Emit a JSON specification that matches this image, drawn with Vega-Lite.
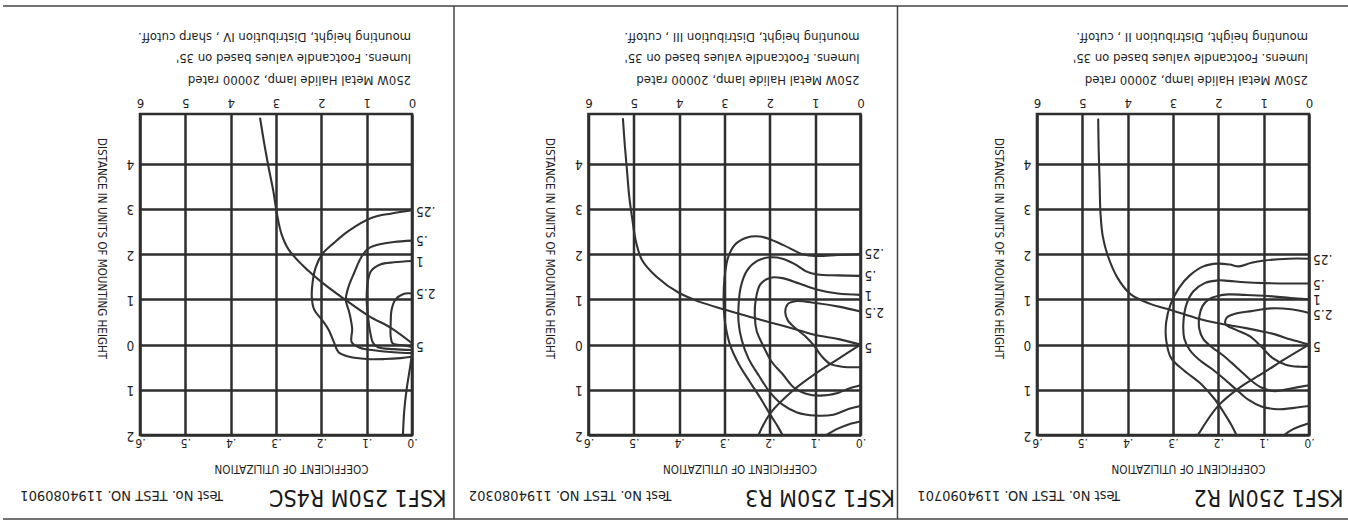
{
  "$schema": "https://vega.github.io/schema/vega-lite/v6.json",
  "background": "white",
  "padding": {"left": 0, "top": 3, "right": 0, "bottom": 0},
  "bounds": "flush",
  "spacing": 176.5,
  "datasets": {
    "labels": [
      {"p":1,"t":".25","y":2.96},{"p":1,"t":".5","y":2.32},{"p":1,"t":"1","y":1.85},{"p":1,"t":"2.5","y":1.15},{"p":1,"t":"5","y":-0.03},
      {"p":2,"t":".25","y":2.02},{"p":2,"t":".5","y":1.53},{"p":2,"t":"1","y":1.1},{"p":2,"t":"2.5","y":0.72},{"p":2,"t":"5","y":-0.05},
      {"p":3,"t":".25","y":1.9},{"p":3,"t":".5","y":1.35},{"p":3,"t":"1","y":1.0},{"p":3,"t":"2.5","y":0.68},{"p":3,"t":"5","y":-0.03}
    ],
    "contours": [
      {"p":1,"c":"cu","i":0,"x":0,"y":0.03},{"p":1,"c":"cu","i":1,"x":0.45,"y":0.36},{"p":1,"c":"cu","i":2,"x":0.95,"y":0.63},{"p":1,"c":"cu","i":3,"x":1.47,"y":0.99},{"p":1,"c":"cu","i":4,"x":1.98,"y":1.37},{"p":1,"c":"cu","i":5,"x":2.42,"y":1.76},{"p":1,"c":"cu","i":6,"x":2.72,"y":2.1},{"p":1,"c":"cu","i":7,"x":2.88,"y":2.45},{"p":1,"c":"cu","i":8,"x":2.98,"y":2.9},{"p":1,"c":"cu","i":9,"x":3.06,"y":3.4},{"p":1,"c":"cu","i":10,"x":3.16,"y":3.9},{"p":1,"c":"cu","i":11,"x":3.26,"y":4.45},{"p":1,"c":"cu","i":12,"x":3.35,"y":5.0},
      {"p":1,"c":"a","i":0,"x":0,"y":2.97},{"p":1,"c":"a","i":1,"x":0.45,"y":2.9},{"p":1,"c":"a","i":2,"x":0.9,"y":2.8},{"p":1,"c":"a","i":3,"x":1.39,"y":2.52},{"p":1,"c":"a","i":4,"x":1.72,"y":2.25},{"p":1,"c":"a","i":5,"x":1.98,"y":2.0},{"p":1,"c":"a","i":6,"x":2.12,"y":1.72},{"p":1,"c":"a","i":7,"x":2.19,"y":1.4},{"p":1,"c":"a","i":8,"x":2.21,"y":1.05},{"p":1,"c":"a","i":9,"x":2.16,"y":0.78},{"p":1,"c":"a","i":10,"x":1.99,"y":0.55},{"p":1,"c":"a","i":11,"x":1.84,"y":0.33},{"p":1,"c":"a","i":12,"x":1.72,"y":0.05},{"p":1,"c":"a","i":13,"x":1.62,"y":-0.17},{"p":1,"c":"a","i":14,"x":1.38,"y":-0.27},{"p":1,"c":"a","i":15,"x":1.0,"y":-0.32},{"p":1,"c":"a","i":16,"x":0.6,"y":-0.32},{"p":1,"c":"a","i":17,"x":0.25,"y":-0.3},{"p":1,"c":"a","i":18,"x":0,"y":-0.27},
      {"p":1,"c":"b","i":0,"x":0,"y":2.3},{"p":1,"c":"b","i":1,"x":0.4,"y":2.27},{"p":1,"c":"b","i":2,"x":0.78,"y":2.2},{"p":1,"c":"b","i":3,"x":0.97,"y":2.12},{"p":1,"c":"b","i":4,"x":1.12,"y":1.93},{"p":1,"c":"b","i":5,"x":1.27,"y":1.6},{"p":1,"c":"b","i":6,"x":1.4,"y":1.28},{"p":1,"c":"b","i":7,"x":1.46,"y":0.99},{"p":1,"c":"b","i":8,"x":1.38,"y":0.7},{"p":1,"c":"b","i":9,"x":1.32,"y":0.35},{"p":1,"c":"b","i":10,"x":1.33,"y":0.05},{"p":1,"c":"b","i":11,"x":1.15,"y":-0.07},{"p":1,"c":"b","i":12,"x":0.8,"y":-0.13},{"p":1,"c":"b","i":13,"x":0.4,"y":-0.17},{"p":1,"c":"b","i":14,"x":0,"y":-0.19},
      {"p":1,"c":"c","i":0,"x":0,"y":1.85},{"p":1,"c":"c","i":1,"x":0.4,"y":1.82},{"p":1,"c":"c","i":2,"x":0.7,"y":1.77},{"p":1,"c":"c","i":3,"x":0.9,"y":1.63},{"p":1,"c":"c","i":4,"x":0.97,"y":1.42},{"p":1,"c":"c","i":5,"x":1.0,"y":1.0},{"p":1,"c":"c","i":6,"x":0.97,"y":0.62},{"p":1,"c":"c","i":7,"x":0.92,"y":0.26},{"p":1,"c":"c","i":8,"x":0.86,"y":0.04},{"p":1,"c":"c","i":9,"x":0.75,"y":-0.06},{"p":1,"c":"c","i":10,"x":0.4,"y":-0.1},{"p":1,"c":"c","i":11,"x":0,"y":-0.12},
      {"p":1,"c":"d","i":0,"x":0,"y":1.13},{"p":1,"c":"d","i":1,"x":0.19,"y":1.12},{"p":1,"c":"d","i":2,"x":0.37,"y":0.99},{"p":1,"c":"d","i":3,"x":0.45,"y":0.77},{"p":1,"c":"d","i":4,"x":0.47,"y":0.48},{"p":1,"c":"d","i":5,"x":0.47,"y":0.18},{"p":1,"c":"d","i":6,"x":0.43,"y":0.03},{"p":1,"c":"d","i":7,"x":0.25,"y":-0.01},{"p":1,"c":"d","i":8,"x":0,"y":-0.05},
      {"p":1,"c":"h","i":0,"x":0,"y":-0.22},{"p":1,"c":"h","i":1,"x":0.05,"y":-0.55},{"p":1,"c":"h","i":2,"x":0.12,"y":-1.0},{"p":1,"c":"h","i":3,"x":0.17,"y":-1.45},{"p":1,"c":"h","i":4,"x":0.2,"y":-2.0},

      {"p":2,"c":"cu","i":0,"x":0,"y":0},{"p":2,"c":"cu","i":1,"x":0.48,"y":0.12},{"p":2,"c":"cu","i":2,"x":0.99,"y":0.21},{"p":2,"c":"cu","i":3,"x":1.44,"y":0.34},{"p":2,"c":"cu","i":4,"x":1.99,"y":0.49},{"p":2,"c":"cu","i":5,"x":2.47,"y":0.62},{"p":2,"c":"cu","i":6,"x":2.98,"y":0.77},{"p":2,"c":"cu","i":7,"x":3.56,"y":0.95},{"p":2,"c":"cu","i":8,"x":4.0,"y":1.14},{"p":2,"c":"cu","i":9,"x":4.5,"y":1.5},{"p":2,"c":"cu","i":10,"x":4.82,"y":1.87},{"p":2,"c":"cu","i":11,"x":4.96,"y":2.31},{"p":2,"c":"cu","i":12,"x":5.04,"y":2.82},{"p":2,"c":"cu","i":13,"x":5.1,"y":3.26},{"p":2,"c":"cu","i":14,"x":5.15,"y":3.84},{"p":2,"c":"cu","i":15,"x":5.2,"y":4.42},{"p":2,"c":"cu","i":16,"x":5.24,"y":4.99},
      {"p":2,"c":"a","i":0,"x":0,"y":2.0},{"p":2,"c":"a","i":1,"x":0.5,"y":1.98},{"p":2,"c":"a","i":2,"x":0.97,"y":1.96},{"p":2,"c":"a","i":3,"x":1.25,"y":1.99},{"p":2,"c":"a","i":4,"x":1.7,"y":2.2},{"p":2,"c":"a","i":5,"x":2.0,"y":2.33},{"p":2,"c":"a","i":6,"x":2.22,"y":2.39},{"p":2,"c":"a","i":7,"x":2.5,"y":2.37},{"p":2,"c":"a","i":8,"x":2.76,"y":2.22},{"p":2,"c":"a","i":9,"x":2.92,"y":1.93},{"p":2,"c":"a","i":10,"x":3.0,"y":1.47},{"p":2,"c":"a","i":11,"x":3.02,"y":0.98},{"p":2,"c":"a","i":12,"x":2.99,"y":0.5},{"p":2,"c":"a","i":13,"x":2.88,"y":0},{"p":2,"c":"a","i":14,"x":2.68,"y":-0.44},{"p":2,"c":"a","i":15,"x":2.45,"y":-0.81},{"p":2,"c":"a","i":16,"x":2.21,"y":-1.18},{"p":2,"c":"a","i":17,"x":1.99,"y":-1.55},{"p":2,"c":"a","i":18,"x":1.82,"y":-1.82},{"p":2,"c":"a","i":19,"x":1.72,"y":-2.0},
      {"p":2,"c":"b","i":0,"x":0,"y":1.52},{"p":2,"c":"b","i":1,"x":0.5,"y":1.53},{"p":2,"c":"b","i":2,"x":0.95,"y":1.55},{"p":2,"c":"b","i":3,"x":1.2,"y":1.62},{"p":2,"c":"b","i":4,"x":1.45,"y":1.78},{"p":2,"c":"b","i":5,"x":1.72,"y":1.9},{"p":2,"c":"b","i":6,"x":1.99,"y":1.93},{"p":2,"c":"b","i":7,"x":2.28,"y":1.85},{"p":2,"c":"b","i":8,"x":2.5,"y":1.64},{"p":2,"c":"b","i":9,"x":2.64,"y":1.28},{"p":2,"c":"b","i":10,"x":2.69,"y":0.86},{"p":2,"c":"b","i":11,"x":2.69,"y":0.5},{"p":2,"c":"b","i":12,"x":2.62,"y":0.1},{"p":2,"c":"b","i":13,"x":2.47,"y":-0.31},{"p":2,"c":"b","i":14,"x":2.24,"y":-0.69},{"p":2,"c":"b","i":15,"x":2.0,"y":-1.05},{"p":2,"c":"b","i":16,"x":1.72,"y":-1.33},{"p":2,"c":"b","i":17,"x":1.4,"y":-1.5},{"p":2,"c":"b","i":18,"x":1.0,"y":-1.57},{"p":2,"c":"b","i":19,"x":0.6,"y":-1.55},{"p":2,"c":"b","i":20,"x":0.25,"y":-1.42},{"p":2,"c":"b","i":21,"x":0,"y":-1.36},
      {"p":2,"c":"c","i":0,"x":0,"y":1.1},{"p":2,"c":"c","i":1,"x":0.5,"y":1.13},{"p":2,"c":"c","i":2,"x":0.97,"y":1.22},{"p":2,"c":"c","i":3,"x":1.35,"y":1.35},{"p":2,"c":"c","i":4,"x":1.72,"y":1.47},{"p":2,"c":"c","i":5,"x":1.99,"y":1.48},{"p":2,"c":"c","i":6,"x":2.21,"y":1.33},{"p":2,"c":"c","i":7,"x":2.31,"y":1.0},{"p":2,"c":"c","i":8,"x":2.33,"y":0.6},{"p":2,"c":"c","i":9,"x":2.29,"y":0.3},{"p":2,"c":"c","i":10,"x":2.15,"y":-0.02},{"p":2,"c":"c","i":11,"x":1.96,"y":-0.38},{"p":2,"c":"c","i":12,"x":1.72,"y":-0.65},{"p":2,"c":"c","i":13,"x":1.47,"y":-0.95},{"p":2,"c":"c","i":14,"x":1.22,"y":-1.08},{"p":2,"c":"c","i":15,"x":0.9,"y":-1.13},{"p":2,"c":"c","i":16,"x":0.5,"y":-1.07},{"p":2,"c":"c","i":17,"x":0.25,"y":-0.97},{"p":2,"c":"c","i":18,"x":0,"y":-0.9},
      {"p":2,"c":"d","i":0,"x":0,"y":0.73},{"p":2,"c":"d","i":1,"x":0.48,"y":0.84},{"p":2,"c":"d","i":2,"x":0.99,"y":0.92},{"p":2,"c":"d","i":3,"x":1.44,"y":0.96},{"p":2,"c":"d","i":4,"x":1.6,"y":0.9},{"p":2,"c":"d","i":5,"x":1.66,"y":0.72},{"p":2,"c":"d","i":6,"x":1.6,"y":0.53},{"p":2,"c":"d","i":7,"x":1.42,"y":0.35},{"p":2,"c":"d","i":8,"x":1.2,"y":0.17},{"p":2,"c":"d","i":9,"x":1.02,"y":-0.03},{"p":2,"c":"d","i":10,"x":0.87,"y":-0.24},{"p":2,"c":"d","i":11,"x":0.68,"y":-0.42},{"p":2,"c":"d","i":12,"x":0.4,"y":-0.49},{"p":2,"c":"d","i":13,"x":0,"y":-0.5},
      {"p":2,"c":"e","i":0,"x":0.75,"y":-2.0},{"p":2,"c":"e","i":1,"x":0.5,"y":-1.86},{"p":2,"c":"e","i":2,"x":0.25,"y":-1.76},{"p":2,"c":"e","i":3,"x":0,"y":-1.7},
      {"p":2,"c":"h","i":0,"x":0,"y":0},{"p":2,"c":"h","i":1,"x":0.48,"y":-0.31},{"p":2,"c":"h","i":2,"x":0.99,"y":-0.64},{"p":2,"c":"h","i":3,"x":1.47,"y":-1.0},{"p":2,"c":"h","i":4,"x":1.99,"y":-1.52},{"p":2,"c":"h","i":5,"x":2.25,"y":-2.0},

      {"p":3,"c":"cu","i":0,"x":0,"y":0},{"p":3,"c":"cu","i":1,"x":0.4,"y":0.11},{"p":3,"c":"cu","i":2,"x":0.73,"y":0.22},{"p":3,"c":"cu","i":3,"x":0.98,"y":0.28},{"p":3,"c":"cu","i":4,"x":1.42,"y":0.37},{"p":3,"c":"cu","i":5,"x":2.0,"y":0.47},{"p":3,"c":"cu","i":6,"x":2.5,"y":0.59},{"p":3,"c":"cu","i":7,"x":3.0,"y":0.75},{"p":3,"c":"cu","i":8,"x":3.5,"y":0.9},{"p":3,"c":"cu","i":9,"x":3.93,"y":1.11},{"p":3,"c":"cu","i":10,"x":4.22,"y":1.47},{"p":3,"c":"cu","i":11,"x":4.44,"y":1.97},{"p":3,"c":"cu","i":12,"x":4.55,"y":2.4},{"p":3,"c":"cu","i":13,"x":4.6,"y":2.91},{"p":3,"c":"cu","i":14,"x":4.62,"y":3.63},{"p":3,"c":"cu","i":15,"x":4.64,"y":4.35},{"p":3,"c":"cu","i":16,"x":4.65,"y":4.98},
      {"p":3,"c":"a","i":0,"x":0,"y":1.9},{"p":3,"c":"a","i":1,"x":0.45,"y":1.9},{"p":3,"c":"a","i":2,"x":0.98,"y":1.86},{"p":3,"c":"a","i":3,"x":1.27,"y":1.81},{"p":3,"c":"a","i":4,"x":1.55,"y":1.73},{"p":3,"c":"a","i":5,"x":1.75,"y":1.77},{"p":3,"c":"a","i":6,"x":2.02,"y":1.79},{"p":3,"c":"a","i":7,"x":2.33,"y":1.73},{"p":3,"c":"a","i":8,"x":2.63,"y":1.53},{"p":3,"c":"a","i":9,"x":2.87,"y":1.25},{"p":3,"c":"a","i":10,"x":3.05,"y":0.9},{"p":3,"c":"a","i":11,"x":3.15,"y":0.5},{"p":3,"c":"a","i":12,"x":3.15,"y":0.1},{"p":3,"c":"a","i":13,"x":3.04,"y":-0.3},{"p":3,"c":"a","i":14,"x":2.75,"y":-0.58},{"p":3,"c":"a","i":15,"x":2.38,"y":-0.87},{"p":3,"c":"a","i":16,"x":2.07,"y":-1.22},{"p":3,"c":"a","i":17,"x":1.85,"y":-1.55},{"p":3,"c":"a","i":18,"x":1.7,"y":-1.8},{"p":3,"c":"a","i":19,"x":1.6,"y":-2.0},
      {"p":3,"c":"b","i":0,"x":0,"y":1.35},{"p":3,"c":"b","i":1,"x":0.4,"y":1.35},{"p":3,"c":"b","i":2,"x":0.98,"y":1.36},{"p":3,"c":"b","i":3,"x":1.42,"y":1.38},{"p":3,"c":"b","i":4,"x":1.78,"y":1.41},{"p":3,"c":"b","i":5,"x":2.0,"y":1.42},{"p":3,"c":"b","i":6,"x":2.3,"y":1.36},{"p":3,"c":"b","i":7,"x":2.55,"y":1.18},{"p":3,"c":"b","i":8,"x":2.7,"y":0.9},{"p":3,"c":"b","i":9,"x":2.77,"y":0.5},{"p":3,"c":"b","i":10,"x":2.75,"y":0.13},{"p":3,"c":"b","i":11,"x":2.63,"y":-0.12},{"p":3,"c":"b","i":12,"x":2.43,"y":-0.33},{"p":3,"c":"b","i":13,"x":2.14,"y":-0.54},{"p":3,"c":"b","i":14,"x":1.87,"y":-0.76},{"p":3,"c":"b","i":15,"x":1.6,"y":-1.0},{"p":3,"c":"b","i":16,"x":1.34,"y":-1.22},{"p":3,"c":"b","i":17,"x":1.05,"y":-1.37},{"p":3,"c":"b","i":18,"x":0.69,"y":-1.43},{"p":3,"c":"b","i":19,"x":0.33,"y":-1.4},{"p":3,"c":"b","i":20,"x":0,"y":-1.36},
      {"p":3,"c":"c","i":0,"x":0,"y":1.0},{"p":3,"c":"c","i":1,"x":0.4,"y":1.03},{"p":3,"c":"c","i":2,"x":0.98,"y":1.08},{"p":3,"c":"c","i":3,"x":1.42,"y":1.1},{"p":3,"c":"c","i":4,"x":1.78,"y":1.11},{"p":3,"c":"c","i":5,"x":2.0,"y":1.08},{"p":3,"c":"c","i":6,"x":2.21,"y":1.0},{"p":3,"c":"c","i":7,"x":2.35,"y":0.85},{"p":3,"c":"c","i":8,"x":2.42,"y":0.62},{"p":3,"c":"c","i":9,"x":2.42,"y":0.35},{"p":3,"c":"c","i":10,"x":2.33,"y":0.12},{"p":3,"c":"c","i":11,"x":2.14,"y":-0.06},{"p":3,"c":"c","i":12,"x":1.92,"y":-0.22},{"p":3,"c":"c","i":13,"x":1.71,"y":-0.4},{"p":3,"c":"c","i":14,"x":1.49,"y":-0.6},{"p":3,"c":"c","i":15,"x":1.27,"y":-0.8},{"p":3,"c":"c","i":16,"x":1.05,"y":-0.95},{"p":3,"c":"c","i":17,"x":0.76,"y":-1.03},{"p":3,"c":"c","i":18,"x":0.4,"y":-0.97},{"p":3,"c":"c","i":19,"x":0,"y":-0.9},
      {"p":3,"c":"d","i":0,"x":0,"y":0.7},{"p":3,"c":"d","i":1,"x":0.4,"y":0.78},{"p":3,"c":"d","i":2,"x":0.84,"y":0.8},{"p":3,"c":"d","i":3,"x":1.27,"y":0.74},{"p":3,"c":"d","i":4,"x":1.63,"y":0.68},{"p":3,"c":"d","i":5,"x":1.81,"y":0.6},{"p":3,"c":"d","i":6,"x":1.84,"y":0.45},{"p":3,"c":"d","i":7,"x":1.62,"y":0.33},{"p":3,"c":"d","i":8,"x":1.3,"y":0.18},{"p":3,"c":"d","i":9,"x":1.05,"y":-0.05},{"p":3,"c":"d","i":10,"x":0.8,"y":-0.3},{"p":3,"c":"d","i":11,"x":0.5,"y":-0.45},{"p":3,"c":"d","i":12,"x":0.2,"y":-0.49},{"p":3,"c":"d","i":13,"x":0,"y":-0.49},
      {"p":3,"c":"e","i":0,"x":0.55,"y":-2.0},{"p":3,"c":"e","i":1,"x":0.35,"y":-1.87},{"p":3,"c":"e","i":2,"x":0,"y":-1.74},
      {"p":3,"c":"h","i":0,"x":0,"y":0},{"p":3,"c":"h","i":1,"x":0.5,"y":-0.3},{"p":3,"c":"h","i":2,"x":1.0,"y":-0.62},{"p":3,"c":"h","i":3,"x":1.53,"y":-0.95},{"p":3,"c":"h","i":4,"x":2.0,"y":-1.35},{"p":3,"c":"h","i":5,"x":2.45,"y":-2.0}
    ]
  },
  "hconcat": [
    {
      "width": 272, "height": 321,
      "layer": [
        {"data": {"name": "contours"}, "transform": [{"filter": "datum.p == 1"}],
         "mark": {"type": "line", "interpolate": "catmull-rom", "stroke": "#333333", "strokeWidth": 2.1, "strokeCap": "round", "strokeJoin": "round"},
         "encoding": {
           "x": {"field": "x", "type": "quantitative", "scale": {"domain": [0, 6], "reverse": true, "nice": false, "zero": false},
                 "axis": {"orient": "top", "values": [0,1,2,3,4,5,6], "labelAngle": 180, "labelAlign": "center", "labelBaseline": "middle", "labelPadding": 12, "labelFontSize": 13, "labelFlush": false, "labelOverlap": false, "title": null, "grid": true, "gridColor": "#2e2e2e", "gridWidth": 2.5, "domain": false, "ticks": false}},
           "y": {"field": "y", "type": "quantitative", "scale": {"domain": [-2, 5.1], "nice": false, "zero": false},
                 "axis": {"orient": "left", "values": [-2,-1,0,1,2,3,4], "labelExpr": "'' + abs(datum.value)", "labelAngle": 180, "labelAlign": "center", "labelBaseline": "middle", "labelPadding": 10, "labelFontSize": 13.5, "labelOverlap": false, "grid": true, "gridColor": "#2e2e2e", "gridWidth": 2.5, "domain": false, "ticks": false, "title": "DISTANCE IN UNITS OF MOUNTING HEIGHT", "titleAngle": 90, "titleX": -40, "titleY": 134, "titleAlign": "center", "titleBaseline": "middle", "titleFontSize": 11.5, "titleFontWeight": "normal"}},
           "detail": {"field": "c", "type": "nominal"},
           "order": {"field": "i", "type": "quantitative"}
         }},
        {"data": {"name": "labels"}, "transform": [{"filter": "datum.p == 1"}],
         "mark": {"type": "text", "angle": 180, "align": "right", "baseline": "middle", "fontSize": 13.5, "color": "#1e1e1e"},
         "encoding": {
           "x": {"datum": -0.09, "type": "quantitative",
                 "axis": {"orient": "bottom", "values": [0,1,2,3,4,5,6], "labelExpr": "'.' + datum.value", "labelAngle": 180, "labelAlign": "center", "labelBaseline": "middle", "labelPadding": 7, "labelFontSize": 12, "labelFlush": false, "labelOverlap": false, "grid": false, "domain": false, "ticks": false, "title": "COEFFICIENT OF UTILIZATION", "titleAngle": 180, "titleX": 151, "titleY": 32, "titleAlign": "center", "titleBaseline": "middle", "titleFontSize": 11.6, "titleFontWeight": "normal"}},
           "y": {"field": "y", "type": "quantitative", "axis": null},
           "text": {"field": "t", "type": "nominal"}
         }},
        {"data": {"values": [{}]},
         "mark": {"type": "text", "angle": 180, "align": "left", "baseline": "middle", "fontSize": 23, "color": "#1a1a1a", "text": "KSF1 250M R4SC"},
         "encoding": {"x": {"datum": -0.76, "type": "quantitative", "axis": null}, "y": {"datum": -3.37, "type": "quantitative", "axis": null}}},
        {"data": {"values": [{}]},
         "mark": {"type": "text", "angle": 180, "align": "left", "baseline": "middle", "fontSize": 14.5, "color": "#1e1e1e", "text": "Test No. TEST NO. 1194080901"},
         "encoding": {"x": {"datum": 4.17, "type": "quantitative", "axis": null}, "y": {"datum": -3.33, "type": "quantitative", "axis": null}}},
        {"data": {"values": [{}]},
         "mark": {"type": "text", "angle": 180, "align": "left", "baseline": "top", "fontSize": 13, "lineHeight": 21.5, "color": "#1e1e1e", "text": ["250W Metal Halide lamp, 20000 rated", "lumens. Footcandle values based on 35'", "mounting height, Distribution IV , sharp cutoff."]},
         "encoding": {"x": {"datum": 0.02, "type": "quantitative", "axis": null}, "y": {"datum": 5.72, "type": "quantitative", "axis": null}}},
        {"data": {"values": [{}]},
         "mark": {"type": "rule", "stroke": "#444444", "strokeWidth": 1.5},
         "encoding": {"x": {"datum": 9.022, "type": "quantitative", "axis": null}, "x2": {"datum": -20.69}, "y": {"datum": 7.489, "type": "quantitative", "axis": null}}},
        {"data": {"values": [{}]},
         "mark": {"type": "rule", "stroke": "#444444", "strokeWidth": 1.5},
         "encoding": {"x": {"datum": 9.022, "type": "quantitative", "axis": null}, "x2": {"datum": -20.69}, "y": {"datum": -3.858, "type": "quantitative", "axis": null}}},
        {"data": {"values": [{}]},
         "mark": {"type": "rule", "stroke": "#444444", "strokeWidth": 1.5},
         "encoding": {"x": {"datum": -0.9265, "type": "quantitative", "axis": null}, "y": {"datum": 7.489, "type": "quantitative", "axis": null}, "y2": {"datum": -3.858}}}
      ],
      "resolve": {"axis": {"x": "independent", "y": "independent"}}
    },
    {
      "width": 272, "height": 321,
      "layer": [
        {"data": {"name": "contours"}, "transform": [{"filter": "datum.p == 2"}],
         "mark": {"type": "line", "interpolate": "catmull-rom", "stroke": "#333333", "strokeWidth": 2.1, "strokeCap": "round", "strokeJoin": "round"},
         "encoding": {
           "x": {"field": "x", "type": "quantitative", "scale": {"domain": [0, 6], "reverse": true, "nice": false, "zero": false},
                 "axis": {"orient": "top", "values": [0,1,2,3,4,5,6], "labelAngle": 180, "labelAlign": "center", "labelBaseline": "middle", "labelPadding": 12, "labelFontSize": 13, "labelFlush": false, "labelOverlap": false, "title": null, "grid": true, "gridColor": "#2e2e2e", "gridWidth": 2.5, "domain": false, "ticks": false}},
           "y": {"field": "y", "type": "quantitative", "scale": {"domain": [-2, 5.1], "nice": false, "zero": false},
                 "axis": {"orient": "left", "values": [-2,-1,0,1,2,3,4], "labelExpr": "'' + abs(datum.value)", "labelAngle": 180, "labelAlign": "center", "labelBaseline": "middle", "labelPadding": 10, "labelFontSize": 13.5, "labelOverlap": false, "grid": true, "gridColor": "#2e2e2e", "gridWidth": 2.5, "domain": false, "ticks": false, "title": "DISTANCE IN UNITS OF MOUNTING HEIGHT", "titleAngle": 90, "titleX": -40, "titleY": 134, "titleAlign": "center", "titleBaseline": "middle", "titleFontSize": 11.5, "titleFontWeight": "normal"}},
           "detail": {"field": "c", "type": "nominal"},
           "order": {"field": "i", "type": "quantitative"}
         }},
        {"data": {"name": "labels"}, "transform": [{"filter": "datum.p == 2"}],
         "mark": {"type": "text", "angle": 180, "align": "right", "baseline": "middle", "fontSize": 13.5, "color": "#1e1e1e"},
         "encoding": {
           "x": {"datum": -0.09, "type": "quantitative",
                 "axis": {"orient": "bottom", "values": [0,1,2,3,4,5,6], "labelExpr": "'.' + datum.value", "labelAngle": 180, "labelAlign": "center", "labelBaseline": "middle", "labelPadding": 7, "labelFontSize": 12, "labelFlush": false, "labelOverlap": false, "grid": false, "domain": false, "ticks": false, "title": "COEFFICIENT OF UTILIZATION", "titleAngle": 180, "titleX": 151, "titleY": 32, "titleAlign": "center", "titleBaseline": "middle", "titleFontSize": 11.6, "titleFontWeight": "normal"}},
           "y": {"field": "y", "type": "quantitative", "axis": null},
           "text": {"field": "t", "type": "nominal"}
         }},
        {"data": {"values": [{}]},
         "mark": {"type": "text", "angle": 180, "align": "left", "baseline": "middle", "fontSize": 23, "color": "#1a1a1a", "text": "KSF1 250M R3"},
         "encoding": {"x": {"datum": -0.76, "type": "quantitative", "axis": null}, "y": {"datum": -3.37, "type": "quantitative", "axis": null}}},
        {"data": {"values": [{}]},
         "mark": {"type": "text", "angle": 180, "align": "left", "baseline": "middle", "fontSize": 14.5, "color": "#1e1e1e", "text": "Test No. TEST NO. 1194080302"},
         "encoding": {"x": {"datum": 4.17, "type": "quantitative", "axis": null}, "y": {"datum": -3.33, "type": "quantitative", "axis": null}}},
        {"data": {"values": [{}]},
         "mark": {"type": "text", "angle": 180, "align": "left", "baseline": "top", "fontSize": 13, "lineHeight": 21.5, "color": "#1e1e1e", "text": ["250W Metal Halide lamp, 20000 rated", "lumens. Footcandle values based on 35'", "mounting height, Distribution III , cutoff."]},
         "encoding": {"x": {"datum": 0.02, "type": "quantitative", "axis": null}, "y": {"datum": 5.72, "type": "quantitative", "axis": null}}},
        {"data": {"values": [{}]},
         "mark": {"type": "rule", "stroke": "#444444", "strokeWidth": 1.5},
         "encoding": {"x": {"datum": -0.816, "type": "quantitative", "axis": null}, "y": {"datum": 7.489, "type": "quantitative", "axis": null}, "y2": {"datum": -3.858}}}
      ],
      "resolve": {"axis": {"x": "independent", "y": "independent"}}
    },
    {
      "width": 272, "height": 321,
      "layer": [
        {"data": {"name": "contours"}, "transform": [{"filter": "datum.p == 3"}],
         "mark": {"type": "line", "interpolate": "catmull-rom", "stroke": "#333333", "strokeWidth": 2.1, "strokeCap": "round", "strokeJoin": "round"},
         "encoding": {
           "x": {"field": "x", "type": "quantitative", "scale": {"domain": [0, 6], "reverse": true, "nice": false, "zero": false},
                 "axis": {"orient": "top", "values": [0,1,2,3,4,5,6], "labelAngle": 180, "labelAlign": "center", "labelBaseline": "middle", "labelPadding": 12, "labelFontSize": 13, "labelFlush": false, "labelOverlap": false, "title": null, "grid": true, "gridColor": "#2e2e2e", "gridWidth": 2.5, "domain": false, "ticks": false}},
           "y": {"field": "y", "type": "quantitative", "scale": {"domain": [-2, 5.1], "nice": false, "zero": false},
                 "axis": {"orient": "left", "values": [-2,-1,0,1,2,3,4], "labelExpr": "'' + abs(datum.value)", "labelAngle": 180, "labelAlign": "center", "labelBaseline": "middle", "labelPadding": 10, "labelFontSize": 13.5, "labelOverlap": false, "grid": true, "gridColor": "#2e2e2e", "gridWidth": 2.5, "domain": false, "ticks": false, "title": "DISTANCE IN UNITS OF MOUNTING HEIGHT", "titleAngle": 90, "titleX": -40, "titleY": 134, "titleAlign": "center", "titleBaseline": "middle", "titleFontSize": 11.5, "titleFontWeight": "normal"}},
           "detail": {"field": "c", "type": "nominal"},
           "order": {"field": "i", "type": "quantitative"}
         }},
        {"data": {"name": "labels"}, "transform": [{"filter": "datum.p == 3"}],
         "mark": {"type": "text", "angle": 180, "align": "right", "baseline": "middle", "fontSize": 13.5, "color": "#1e1e1e"},
         "encoding": {
           "x": {"datum": -0.09, "type": "quantitative",
                 "axis": {"orient": "bottom", "values": [0,1,2,3,4,5,6], "labelExpr": "'.' + datum.value", "labelAngle": 180, "labelAlign": "center", "labelBaseline": "middle", "labelPadding": 7, "labelFontSize": 12, "labelFlush": false, "labelOverlap": false, "grid": false, "domain": false, "ticks": false, "title": "COEFFICIENT OF UTILIZATION", "titleAngle": 180, "titleX": 151, "titleY": 32, "titleAlign": "center", "titleBaseline": "middle", "titleFontSize": 11.6, "titleFontWeight": "normal"}},
           "y": {"field": "y", "type": "quantitative", "axis": null},
           "text": {"field": "t", "type": "nominal"}
         }},
        {"data": {"values": [{}]},
         "mark": {"type": "text", "angle": 180, "align": "left", "baseline": "middle", "fontSize": 23, "color": "#1a1a1a", "text": "KSF1 250M R2"},
         "encoding": {"x": {"datum": -0.76, "type": "quantitative", "axis": null}, "y": {"datum": -3.37, "type": "quantitative", "axis": null}}},
        {"data": {"values": [{}]},
         "mark": {"type": "text", "angle": 180, "align": "left", "baseline": "middle", "fontSize": 14.5, "color": "#1e1e1e", "text": "Test No. TEST NO. 1194090701"},
         "encoding": {"x": {"datum": 4.17, "type": "quantitative", "axis": null}, "y": {"datum": -3.33, "type": "quantitative", "axis": null}}},
        {"data": {"values": [{}]},
         "mark": {"type": "text", "angle": 180, "align": "left", "baseline": "top", "fontSize": 13, "lineHeight": 21.5, "color": "#1e1e1e", "text": ["250W Metal Halide lamp, 20000 rated", "lumens. Footcandle values based on 35'", "mounting height, Distribution II , cutoff."]},
         "encoding": {"x": {"datum": 0.02, "type": "quantitative", "axis": null}, "y": {"datum": 5.72, "type": "quantitative", "axis": null}}}
      ],
      "resolve": {"axis": {"x": "independent", "y": "independent"}}
    }
  ],
  "config": {
    "font": "DejaVu Sans Condensed, Liberation Sans, sans-serif",
    "view": {"stroke": "#2e2e2e", "strokeWidth": 2.6},
    "axis": {"labelColor": "#1e1e1e", "titleColor": "#1e1e1e", "gridOpacity": 1}
  }
}
